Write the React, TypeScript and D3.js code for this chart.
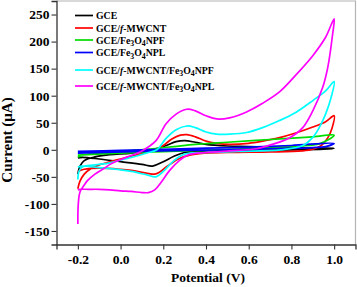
import React, { useRef, useEffect } from "react";
import * as d3 from "d3";

// cyclic voltammograms: [potential (V), current (uA)], forward scan then reverse scan
const gce: [number, number][] = [
  [-0.2, -45], [-0.19, -30], [-0.17, -20], [-0.12, -13], [-0.05, -9], [0.05, -6], [0.12, -2],
  [0.18, 3], [0.22, 9], [0.26, 15], [0.3, 17], [0.35, 14], [0.4, 10], [0.5, 7], [0.6, 6],
  [0.8, 4], [1.0, 3],
  [0.95, 1], [0.8, 0], [0.6, -1], [0.4, -2], [0.3, -5], [0.25, -12], [0.2, -22], [0.15, -30],
  [0.1, -27], [0.0, -22], [-0.1, -17], [-0.18, -14], [-0.2, -15],
];
const fMwcnt: [number, number][] = [
  [-0.2, -72], [-0.19, -58], [-0.17, -45], [-0.14, -35], [-0.1, -28], [-0.05, -22], [0.0, -17],
  [0.05, -12], [0.1, -7], [0.15, -2], [0.2, 8], [0.24, 20], [0.28, 27], [0.31, 28], [0.35, 24],
  [0.4, 16], [0.45, 12], [0.51, 10], [0.6, 12], [0.665, 16], [0.74, 22], [0.82, 31], [0.9, 42],
  [0.96, 52], [1.0, 63],
  [0.99, 40], [0.97, 22], [0.94, 8], [0.9, 1], [0.85, -2], [0.7, -4], [0.5, -5], [0.35, -8],
  [0.28, -15], [0.22, -30], [0.18, -42], [0.16, -45], [0.12, -43], [0.05, -38], [0.0, -36],
  [-0.1, -34], [-0.17, -36], [-0.2, -40],
];
const fe3o4Npf: [number, number][] = [
  [-0.2, -13], [-0.15, -8], [0.0, -3], [0.15, 2], [0.25, 6], [0.35, 10], [0.5, 14], [0.7, 19],
  [0.9, 24], [1.0, 27],
  [0.97, 18], [0.93, 11], [0.85, 7], [0.7, 4], [0.5, 1], [0.3, -2], [0.15, -4], [0.0, -6],
  [-0.2, -10],
];
const fe3o4Npl: [number, number][] = [
  [-0.2, -3], [0.0, -1], [0.2, 1], [0.4, 3], [0.6, 5], [0.8, 8], [1.0, 12],
  [0.96, 6], [0.9, 4], [0.7, 2], [0.5, 0], [0.3, -1], [0.1, -3], [-0.2, -6],
];
const fMwcntNpf: [number, number][] = [
  [-0.2, -55], [-0.195, -40], [-0.18, -32], [-0.12, -28], [-0.05, -24], [0.02, -17], [0.08, -11],
  [0.13, -5], [0.17, 0], [0.213, 21], [0.26, 37], [0.31, 44], [0.35, 41], [0.4, 33], [0.45, 29],
  [0.51, 29], [0.59, 32], [0.665, 41], [0.744, 54], [0.82, 69], [0.9, 91], [0.96, 109], [1.0, 126],
  [0.986, 97], [0.96, 66], [0.93, 41], [0.9, 23], [0.853, 8], [0.75, 0], [0.55, -3], [0.4, -5],
  [0.3, -8], [0.25, -20], [0.2, -40], [0.166, -50], [0.12, -46], [0.05, -40], [0.0, -37],
  [-0.1, -33], [-0.18, -30], [-0.2, -32],
];
const fMwcntNpl: [number, number][] = [
  [-0.2, -137], [-0.198, -100], [-0.19, -78], [-0.17, -65], [-0.155, -57], [-0.12, -45],
  [-0.084, -36], [-0.04, -25], [0.026, -14], [0.1, -2], [0.166, 17], [0.213, 48], [0.26, 66],
  [0.31, 75], [0.35, 72], [0.4, 63], [0.45, 57], [0.51, 59], [0.59, 70], [0.665, 86], [0.744, 107],
  [0.82, 138], [0.9, 174], [0.96, 208], [1.0, 242],
  [0.993, 214], [0.97, 152], [0.946, 115], [0.9, 72], [0.853, 41], [0.79, 22], [0.71, 10],
  [0.635, 2], [0.55, -1], [0.48, -3], [0.4, -5], [0.32, -9], [0.275, -20], [0.23, -38],
  [0.19, -60], [0.16, -74], [0.13, -79], [0.1, -79], [0.05, -77], [0.0, -76], [-0.05, -74],
  [-0.1, -73], [-0.15, -73], [-0.19, -73], [-0.2, -74],
];

const seriesData = [gce, fMwcnt, fe3o4Npf, fe3o4Npl, fMwcntNpf, fMwcntNpl];
const seriesColors = ["#000000", "#ff0000", "#00dd00", "#0000ff", "#00ffff", "#ff00ff"];

// legend labels: [text, style] where style "i" = italic, "s" = subscript
const legendLabels: [string, string][][] = [
  [["GCE", ""]],
  [["GCE/", ""], ["f", "i"], ["-MWCNT", ""]],
  [["GCE/Fe", ""], ["3", "s"], ["O", ""], ["4", "s"], ["NPF", ""]],
  [["GCE/Fe", ""], ["3", "s"], ["O", ""], ["4", "s"], ["NPL", ""]],
  [["GCE/", ""], ["f", "i"], ["-MWCNT/Fe", ""], ["3", "s"], ["O", ""], ["4", "s"], ["NPF", ""]],
  [["GCE/", ""], ["f", "i"], ["-MWCNT/Fe", ""], ["3", "s"], ["O", ""], ["4", "s"], ["NPL", ""]],
];

const xTicks = [-0.2, 0.0, 0.2, 0.4, 0.6, 0.8, 1.0];
const yTicks = [-150, -100, -50, 0, 50, 100, 150, 200, 250];

const App = () => {
  const svgRef = useRef<SVGSVGElement>(null);

  useEffect(() => {
    const svg = d3.select(svgRef.current);
    svg.selectAll("*").remove();
    const width = 357;
    const height = 287;
    const font = "'Liberation Serif', 'Times New Roman', serif";
    const left = 56.5, right = 355.5, top = 1, bottom = 244.5;

    const x = d3.scaleLinear().domain([-0.3, 1.1]).range([left, right]);
    const y = d3.scaleLinear().domain([-175, 275]).range([bottom, top]);

    svg.attr("width", width).attr("height", height);

    // top/right frame
    svg.append("path")
      .attr("d", `M${left},${top}H${right}V${bottom}`)
      .attr("fill", "none")
      .attr("stroke", "#b4b4b4")
      .attr("stroke-width", 1.2);

    // curves
    const line = d3.line<[number, number]>()
      .x((d) => x(d[0]))
      .y((d) => y(d[1]))
      .curve(d3.curveCatmullRom.alpha(0.5));

    svg.append("g")
      .selectAll("path")
      .data(seriesData)
      .join("path")
      .attr("d", (d) => line(d))
      .attr("fill", "none")
      .attr("stroke", (d, i) => seriesColors[i])
      .attr("stroke-width", 1.7)
      .attr("stroke-linejoin", "round");

    // x axis
    const xAxis = svg.append("g").attr("transform", `translate(0, ${bottom})`);
    xAxis.call(
      d3.axisBottom(x).tickValues(d3.range(-3, 12).map((v) => v / 10)).tickSize(3).tickFormat(() => "")
    );
    xAxis.call(
      d3.axisBottom(x).tickValues(xTicks).tickSize(5).tickPadding(5).tickFormat(d3.format(".1f"))
    );
    xAxis.selectAll("path.domain").attr("stroke", "#333").attr("stroke-width", 1.3);
    xAxis.selectAll("line").attr("stroke", "#333").attr("stroke-width", 1.1);
    xAxis.selectAll("text")
      .attr("font-family", font)
      .attr("font-weight", "bold")
      .attr("font-size", 13.5)
      .attr("fill", "#000")
      .text((d: any) => d3.format(".1f")(d).replace("−", "-"));

    // y axis
    const yAxis = svg.append("g").attr("transform", `translate(${left}, 0)`);
    yAxis.call(
      d3.axisLeft(y).tickValues(d3.range(-175, 276, 25)).tickSize(3).tickFormat(() => "")
    );
    yAxis.call(
      d3.axisLeft(y).tickValues(yTicks).tickSize(5).tickPadding(2).tickFormat((d) => String(d))
    );
    yAxis.selectAll("path.domain").attr("stroke", "#333").attr("stroke-width", 1.3);
    yAxis.selectAll("line").attr("stroke", "#333").attr("stroke-width", 1.1);
    yAxis.selectAll("text")
      .attr("font-family", font)
      .attr("font-weight", "bold")
      .attr("font-size", 13.5)
      .attr("fill", "#000");

    // axis titles
    svg.append("text")
      .attr("x", (left + right) / 2 + 2)
      .attr("y", 282)
      .attr("text-anchor", "middle")
      .attr("font-family", font)
      .attr("font-weight", "bold")
      .attr("font-size", 13.5)
      .text("Potential (V)");

    svg.append("text")
      .attr("transform", `translate(12, 140) rotate(-90)`)
      .attr("text-anchor", "middle")
      .attr("font-family", font)
      .attr("font-weight", "bold")
      .attr("font-size", 15)
      .text("Current (\u03bcA)");

    // legend
    const legendY = [15.5, 28, 40, 52.5, 70, 86];
    const legend = svg.append("g");
    legendLabels.forEach((parts, i) => {
      const ly = legendY[i];
      legend.append("line")
        .attr("x1", 75).attr("x2", 93)
        .attr("y1", ly).attr("y2", ly)
        .attr("stroke", seriesColors[i])
        .attr("stroke-width", 1.7);
      const t = legend.append("text")
        .attr("x", 96)
        .attr("y", ly + 3.5)
        .attr("font-family", font)
        .attr("font-weight", "bold")
        .attr("font-size", 9.8)
        .attr("fill", "#000");
      let shifted = false;
      parts.forEach(([s, style]) => {
        const span = t.append("tspan").text(s);
        if (style === "s") {
          span.attr("font-size", 7.8).attr("dy", shifted ? 0 : 2.5);
          shifted = true;
        } else {
          if (shifted) span.attr("dy", -2.5);
          shifted = false;
          if (style === "i") span.attr("font-style", "italic");
        }
      });
    });
  }, []);

  return <svg ref={svgRef} style={{ position: "absolute", left: 0, top: 0, background: "#fff" }}></svg>;
};

export default App;
